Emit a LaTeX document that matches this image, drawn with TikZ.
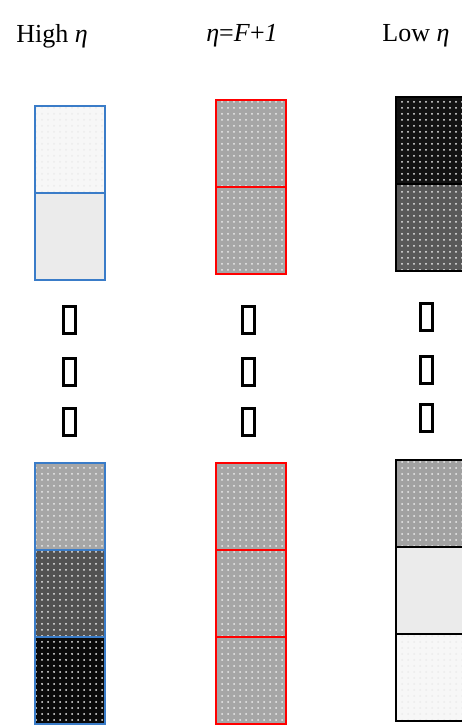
\documentclass[tikz,border=0pt]{standalone}
\usepackage{fontspec}
\setmainfont{Liberation Serif}
\usetikzlibrary{positioning, patterns}
\definecolor{highblue}{RGB}{58,124,200}

\begin{document}
\begin{tikzpicture}[x=0.5pt, y=-0.5pt,
    cell/.style={draw, line width=1pt, minimum width=35pt, minimum height=43.5pt, outer sep=0pt, inner sep=0pt,
        postaction={pattern=dots, pattern color=white!85!gray}, postaction={draw}},
    gap/.style={draw, line width=1.5pt, minimum width=6pt, minimum height=13.5pt, outer sep=0pt, inner sep=0pt},
    title/.style={font=\fontsize{13}{15}\selectfont}
]
    \useasboundingbox (0,0) rectangle (461,726);

    % Headings
    \node[title] (Thigh) at (52,36) {High \textit{η}};
    \node[title] (Tmid) at (242,36) {\textit{η}=\textit{F}+\textit{1}};
    \node[title] (Tlow) at (416,36) {Low \textit{η}};

    % High eta column
    \node[cell, draw=highblue, fill=black!3] (H1) at (70,149.5) {};
    \node[cell, draw=highblue, fill=black!8, below=0pt of H1] (H2) {};
    \node[cell, draw=highblue, fill=black!35] (H3) at (70,506.5) {};
    \node[cell, draw=highblue, fill=black!68, below=0pt of H3] (H4) {};
    \node[cell, draw=highblue, fill=black!96, below=0pt of H4] (H5) {};

    % eta = F+1 column
    \node[cell, draw=red, fill=black!35] (M1) at (250.5,143.5) {};
    \node[cell, draw=red, fill=black!35, below=0pt of M1] (M2) {};
    \node[cell, draw=red, fill=black!35] (M3) at (250.5,506.5) {};
    \node[cell, draw=red, fill=black!35, below=0pt of M3] (M4) {};
    \node[cell, draw=red, fill=black!35, below=0pt of M4] (M5) {};

    % Low eta column
    \node[cell, fill=black!93] (L1) at (431,140.5) {};
    \node[cell, fill=black!65, below=0pt of L1] (L2) {};
    \node[cell, fill=black!37] (L3) at (431,503.5) {};
    \node[cell, fill=black!8, below=0pt of L3] (L4) {};
    \node[cell, fill=black!3, below=0pt of L4] (L5) {};

    % Gaps
    \foreach \y [count=\i] in {320,372,422} {
        \node[gap] (gH\i) at (69.5,\y) {};
        \node[gap] (gM\i) at (248.5,\y) {};
    }
    \foreach \y [count=\i] in {317,370,418} {
        \node[gap] (gL\i) at (426.5,\y) {};
    }

\end{tikzpicture}
\end{document}
